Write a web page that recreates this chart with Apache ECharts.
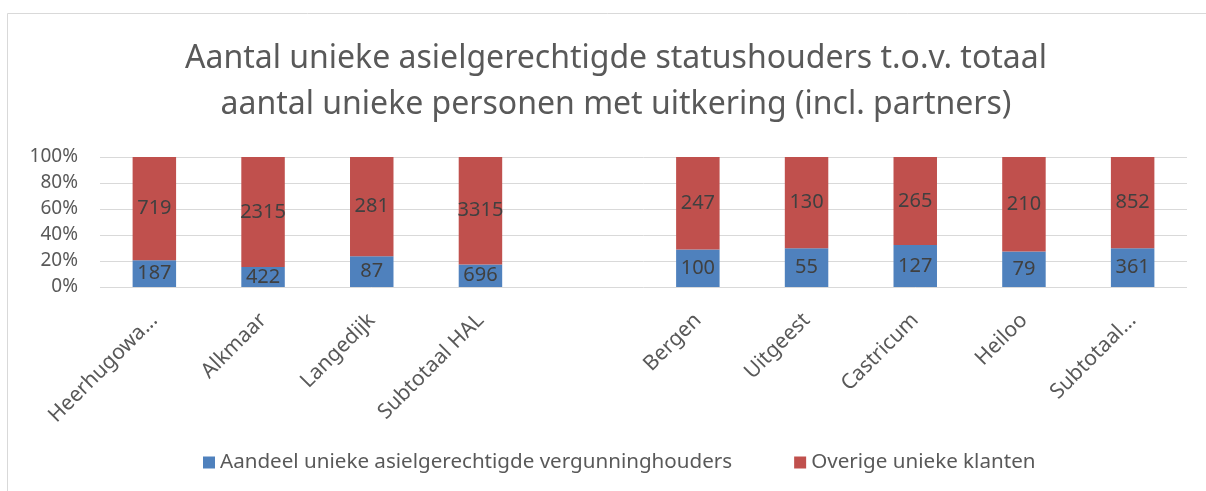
<!DOCTYPE html>
<html>
<head>
<meta charset="utf-8">
<script src="https://cdn.jsdelivr.net/npm/echarts@6/dist/echarts.min.js"></script>
<style>
html,body{margin:0;padding:0;background:#fff;}
#chart{width:1206px;height:491px;}
</style>
</head>
<body>
<div id="chart"></div>
<script>
const categories = ['Heerhugowa...', 'Alkmaar', 'Langedijk', 'Subtotaal HAL', '', 'Bergen', 'Uitgeest', 'Castricum', 'Heiloo', 'Subtotaal...'];
const asielCounts = [187, 422, 87, 696, null, 100, 55, 127, 79, 361];
const overigeCounts = [719, 2315, 281, 3315, null, 247, 130, 265, 210, 852];
const yTicks = [0, 20, 40, 60, 80, 100];
const seriesNames = ['Aandeel unieke asielgerechtigde vergunninghouders', 'Overige unieke klanten'];
const titleLines = ['Aantal unieke asielgerechtigde statushouders t.o.v. totaal', 'aantal unieke personen met uitkering (incl. partners)'];

function pct(a, i) {
  const v = a[i], t = (asielCounts[i] || 0) + (overigeCounts[i] || 0);
  return v == null ? null : v / t * 100;
}
const asielPct = asielCounts.map((v, i) => pct(asielCounts, i));
const overigePct = overigeCounts.map((v, i) => pct(overigeCounts, i));

const FONT = 'Noto Sans';
const chart = echarts.init(document.getElementById('chart'), null, {renderer: 'canvas'});
const labelStyle = {
  show: true,
  position: 'inside',
  fontFamily: FONT,
  fontSize: 20,
  color: '#404040'
};
chart.setOption({
  animation: false,
  backgroundColor: '#fff',
  graphic: [{
    type: 'rect',
    shape: {x: 7.5, y: 13.5, width: 1300, height: 600},
    style: {fill: 'none', stroke: '#D9D9D9', lineWidth: 1},
    silent: true
  }],
  title: {
    text: titleLines.join('\n'),
    left: 611,
    textAlign: 'center',
    top: 31,
    textStyle: {
      fontFamily: FONT,
      fontSize: 32,
      fontWeight: 'normal',
      color: '#595959',
      lineHeight: 46
    }
  },
  legend: {
    data: seriesNames,
    left: 198,
    top: 447,
    icon: 'rect',
    itemWidth: 12,
    itemHeight: 12,
    itemGap: 62,
    textStyle: {fontFamily: FONT, fontSize: 20.6, color: '#595959'}
  },
  grid: {left: 100, right: 19, top: 157, height: 130, containLabel: false},
  xAxis: {
    type: 'category',
    data: categories,
    axisLine: {show: false},
    axisTick: {show: false},
    axisLabel: {
      rotate: 45,
      interval: 0,
      margin: 30,
      fontFamily: FONT,
      fontSize: 21,
      color: '#595959'
    }
  },
  yAxis: {
    type: 'value',
    min: yTicks[0],
    max: yTicks[yTicks.length - 1],
    interval: 20,
    axisLine: {show: false},
    axisTick: {show: false},
    axisLabel: {
      formatter: '{value}%',
      margin: 22,
      fontFamily: FONT,
      fontSize: 19,
      color: '#595959'
    },
    splitLine: {lineStyle: {color: '#D9D9D9', width: 1}}
  },
  series: [
    {
      name: seriesNames[0],
      type: 'bar',
      stack: 'total',
      barWidth: '40%',
      itemStyle: {color: '#4F81BD'},
      label: Object.assign({}, labelStyle, {formatter: p => asielCounts[p.dataIndex]}),
      data: asielPct
    },
    {
      name: seriesNames[1],
      type: 'bar',
      stack: 'total',
      barWidth: '40%',
      itemStyle: {color: '#C0504D'},
      label: Object.assign({}, labelStyle, {formatter: p => overigeCounts[p.dataIndex]}),
      data: overigePct
    }
  ]
});
</script>
</body>
</html>
